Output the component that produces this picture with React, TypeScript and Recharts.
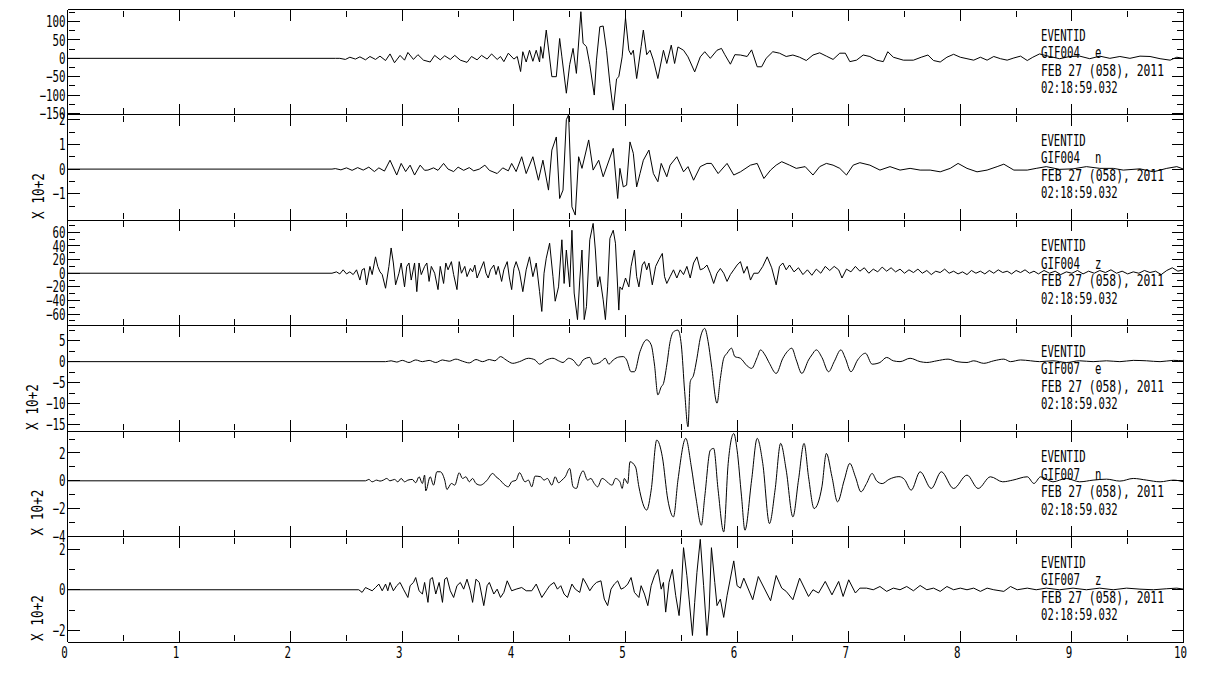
import React from 'react';
import { LineChart, Line, XAxis, YAxis } from 'recharts';

type Pt = [number, number];

// time axis (seconds)
const secondTicks = [0, 1, 2, 3, 4, 5, 6, 7, 8, 9, 10];
const halfSecondTicks = [0.5, 1.5, 2.5, 3.5, 4.5, 5.5, 6.5, 7.5, 8.5, 9.5];

// header text of every trace
const eventId = 'EVENTID';
const eventDate = 'FEB 27 (058), 2011';
const eventTime = '02:18:59.032';
const stations = ['GIF004', 'GIF004', 'GIF004', 'GIF007', 'GIF007', 'GIF007'];
const components = ['e', 'n', 'z', 'e', 'n', 'z'];
const scaleLabels = ['', 'X 10+2', '', 'X 10+2', 'X 10+2', 'X 10+2'];

// amplitude axes
const yDomains: [number, number][] = [[-153, 133], [-2.06, 2.21], [-76.6, 78], [-16.5, 8.6], [-4, 3.58], [-2.57, 2.62]];
const yMajorTicks = [
  [100, 50, 0, -50, -100, -150],
  [2, 1, 0, -1],
  [60, 40, 20, 0, -20, -40, -60],
  [5, 0, -5, -10, -15],
  [2, 0, -2, -4],
  [2, 0, -2],
];
const yMinorTicks = [
  [125, 75, 25, -25, -75, -125],
  [1.5, 0.5, -0.5, -1.5],
  [70, 50, 30, 10, -10, -30, -50, -70],
  [7.5, 2.5, -2.5, -7.5, -12.5],
  [3, 1, -1, -3],
  [1, -1],
];

// traces: [time s, amplitude]
const gif004e: Pt[] = [
  [0, 0], [2.40, 0], [2.44, 0], [2.49, -3], [2.53, 3], [2.58, -2], [2.62, 4], [2.67, -4], [2.71, 5], [2.76, -3],
  [2.80, 6], [2.85, -6], [2.89, 12], [2.93, -12], [2.98, 8], [3.02, -5], [3.05, 16], [3.10, -3], [3.14, 10], [3.19, -5],
  [3.25, -10], [3.29, 8], [3.34, -4], [3.38, 7], [3.43, -3], [3.47, 8], [3.52, -5], [3.58, -11], [3.62, 5], [3.67, -4],
  [3.71, 8], [3.76, -2], [3.80, 12], [3.85, -3], [3.88, 5], [3.91, -9], [3.95, 14], [4.00, -2], [4.03, 5],
  [4.06, -36], [4.08, 18], [4.11, -10], [4.14, 22], [4.17, -8], [4.20, 22], [4.23, -10], [4.24, 32], [4.26, 0], [4.29, 77],
  [4.34, -50], [4.38, -50], [4.41, 54], [4.43, 4], [4.47, -95], [4.50, -17], [4.53, 27], [4.56, -41], [4.60, 127], [4.62, 41],
  [4.65, 32], [4.68, -17], [4.72, -100], [4.74, -5], [4.77, 86], [4.80, 88], [4.83, 22], [4.86, -68], [4.89, -141], [4.92, -56],
  [4.94, -50], [4.97, 4], [5.00, 110], [5.03, 22], [5.05, 10], [5.07, 22], [5.10, -55], [5.14, 32], [5.16, 77], [5.19, 10],
  [5.22, 22], [5.25, -5], [5.29, -55], [5.34, 22], [5.37, -14], [5.41, 36], [5.44, -14], [5.47, 31], [5.52, 22], [5.56, 4],
  [5.62, -37], [5.67, 4], [5.71, 18], [5.76, 0], [5.82, 22], [5.86, 27], [5.89, 10], [5.94, -16], [5.98, 10], [6.03, 9],
  [6.09, 5], [6.13, 23], [6.18, -23], [6.22, -23], [6.26, 0], [6.32, 18], [6.38, 14], [6.44, 5], [6.50, 9], [6.56, 3],
  [6.62, -6], [6.68, 9], [6.74, 15], [6.80, 6], [6.86, -3], [6.92, 14], [6.97, 14], [7.01, -9], [7.07, -5], [7.13, 9],
  [7.19, 5], [7.25, -5], [7.31, -9], [7.35, 18], [7.40, 3], [7.49, -5], [7.58, -5], [7.65, 3], [7.71, 9], [7.76, -6],
  [7.82, -10], [7.88, 3], [7.94, 11], [8.00, 3], [8.06, -1], [8.12, -5], [8.18, 3], [8.24, -5], [8.30, 5], [8.36, -1],
  [8.42, -5], [8.48, 1], [8.54, 6], [8.60, -6], [8.65, 3], [8.71, 12], [8.80, 5], [8.89, -1], [8.98, 5], [9.07, 6],
  [9.16, -1], [9.25, 6], [9.34, 0], [9.43, 5], [9.52, 0], [9.61, 6], [9.70, 5], [9.79, -1], [9.88, -5], [9.94, 3], [10, 0],
];

const gif004n: Pt[] = [
  [0, 0], [2.37, 0], [2.40, 0.02], [2.45, -0.03], [2.50, 0.05], [2.55, -0.05], [2.60, 0.06], [2.65, -0.04], [2.70, 0.08], [2.75, -0.1],
  [2.79, 0.05], [2.84, -0.08], [2.89, 0.36], [2.95, -0.24], [2.99, 0.23], [3.03, -0.1], [3.07, 0.16], [3.11, -0.24], [3.16, 0.16], [3.20, -0.05],
  [3.23, -0.04], [3.28, 0.05], [3.32, -0.05], [3.37, 0.23], [3.41, 0.0], [3.46, -0.1], [3.50, 0.08], [3.55, -0.05], [3.60, 0.06], [3.64, -0.07],
  [3.69, 0.0], [3.74, 0.16], [3.78, -0.05], [3.85, -0.18], [3.90, 0.05], [3.95, -0.07], [3.98, 0.23], [4.02, -0.1], [4.07, 0.5], [4.11, -0.18],
  [4.17, 0.5], [4.22, -0.45], [4.26, 0.36], [4.31, -0.85], [4.34, 0.77], [4.38, 1.3], [4.41, -1.19], [4.44, -0.85], [4.47, 2.0], [4.49, 2.2],
  [4.52, -1.53], [4.55, -1.86], [4.58, 0.5], [4.61, 0.03], [4.67, 1.18], [4.71, -0.04], [4.76, 0.36], [4.80, -0.31], [4.89, 0.84], [4.93, -1.19],
  [4.95, 0.03], [4.98, -0.72], [5.01, -0.65], [5.04, 1.1], [5.07, 0.64], [5.10, -0.72], [5.13, -0.18], [5.16, 0.36], [5.21, 0.77], [5.25, -0.18],
  [5.29, -0.51], [5.32, 0.23], [5.37, -0.31], [5.40, 0.16], [5.46, 0.5], [5.52, -0.11], [5.56, 0.1], [5.61, -0.45], [5.67, 0.1], [5.73, 0.23],
  [5.77, 0.23], [5.83, -0.18], [5.91, 0.23], [5.97, -0.24], [6.03, -0.11], [6.12, 0.16], [6.18, 0.23], [6.24, -0.38], [6.30, -0.04], [6.35, 0.16],
  [6.40, 0.3], [6.47, 0.16], [6.53, 0.03], [6.61, 0.1], [6.68, -0.24], [6.74, 0.1], [6.80, 0.23], [6.86, 0.16], [6.92, 0.03], [6.98, -0.24],
  [7.04, 0.16], [7.10, 0.26], [7.19, 0.16], [7.28, -0.04], [7.37, 0.1], [7.46, -0.04], [7.55, 0.03], [7.64, -0.04], [7.73, -0.04], [7.82, -0.11],
  [7.91, 0.03], [7.98, 0.23], [8.06, 0.03], [8.15, -0.11], [8.24, -0.04], [8.33, 0.1], [8.39, 0.2], [8.48, -0.04], [8.60, -0.04], [8.68, 0.03],
  [8.77, 0.1], [8.89, -0.01], [9.01, 0.01], [9.13, 0.1], [9.25, 0.03], [9.37, 0.03], [9.46, -0.04], [9.61, 0.01], [9.73, -0.11], [9.85, 0.03],
  [9.94, 0.1], [10, 0],
];

const gif004z: Pt[] = [
  [0, 0], [2.37, 0], [2.41, 2], [2.44, -1], [2.47, 5], [2.50, -1], [2.53, 2], [2.56, -2], [2.59, 5], [2.62, -10],
  [2.64, 5], [2.66, 7], [2.68, -17], [2.71, 10], [2.73, -2], [2.76, 24], [2.78, 10], [2.80, 2], [2.82, -2], [2.85, -22],
  [2.88, 10], [2.90, 37], [2.92, 15], [2.94, -17], [2.97, 0], [2.99, 15], [3.02, -20], [3.04, 10], [3.06, 15], [3.08, -10],
  [3.11, 15], [3.13, -27], [3.15, 15], [3.17, -2], [3.20, 10], [3.22, 15], [3.24, -12], [3.26, 10], [3.29, 0], [3.32, -24],
  [3.34, 10], [3.37, -15], [3.39, 15], [3.41, 5], [3.44, 17], [3.46, -2], [3.49, -24], [3.51, 17], [3.53, 0], [3.56, 10],
  [3.58, -5], [3.61, 7], [3.63, 2], [3.65, 12], [3.67, -7], [3.70, 5], [3.73, 17], [3.75, 0], [3.77, -7], [3.79, 5],
  [3.82, 12], [3.84, -2], [3.86, 10], [3.89, -12], [3.91, 5], [3.94, 17], [3.96, -7], [3.98, -24], [4.00, 7], [4.02, 17],
  [4.05, 2], [4.08, -27], [4.11, 5], [4.14, 24], [4.17, -5], [4.20, 15], [4.23, -27], [4.25, -56], [4.27, 0], [4.29, 22],
  [4.32, 44], [4.35, -5], [4.37, -41], [4.40, -20], [4.43, 49], [4.45, -15], [4.47, 34], [4.50, -20], [4.52, 63], [4.54, -29],
  [4.57, -68], [4.59, -10], [4.61, 34], [4.63, -68], [4.65, -49], [4.68, 49], [4.71, 73], [4.73, 34], [4.75, -20], [4.77, -5],
  [4.80, -39], [4.82, -68], [4.84, -20], [4.86, 51], [4.89, 63], [4.91, 44], [4.94, -54], [4.95, -20], [4.97, -24], [5.00, -7],
  [5.03, -20], [5.05, 10], [5.08, 34], [5.10, -5], [5.12, -20], [5.15, 12], [5.17, 17], [5.19, 5], [5.21, 15], [5.24, -17],
  [5.27, 10], [5.30, 20], [5.33, 29], [5.35, -5], [5.37, -15], [5.40, -5], [5.43, 5], [5.46, -7], [5.49, 5], [5.52, -2],
  [5.55, 10], [5.58, -7], [5.61, 15], [5.64, 24], [5.67, 5], [5.70, 7], [5.73, 12], [5.76, 0], [5.79, -15], [5.82, 0],
  [5.85, 7], [5.88, 0], [5.91, -12], [5.94, -2], [5.97, 5], [6.00, 12], [6.03, 17], [6.06, 0], [6.09, 10], [6.12, -10],
  [6.15, 0], [6.19, 0], [6.23, 10], [6.27, 24], [6.31, 8], [6.35, -17], [6.38, 10], [6.41, 15], [6.44, 5], [6.47, 12],
  [6.51, 2], [6.55, 8], [6.59, -2], [6.63, 5], [6.67, -3], [6.71, 6], [6.75, 0], [6.79, 10], [6.83, 4], [6.87, 10],
  [6.91, 5], [6.94, -7], [6.98, 6], [7.02, 2], [7.06, 10], [7.10, 3], [7.14, 8], [7.18, 0], [7.22, 6], [7.26, 2],
  [7.30, 9], [7.34, 3], [7.38, 8], [7.42, 2], [7.46, 6], [7.50, 0], [7.54, 5], [7.58, 1], [7.62, 6], [7.66, 0],
  [7.70, 4], [7.74, -2], [7.78, 3], [7.82, 1], [7.86, 6], [7.90, 0], [7.94, 3], [7.98, -1], [8.02, 2], [8.06, -2],
  [8.10, 4], [8.14, 0], [8.18, 3], [8.22, -1], [8.26, 4], [8.30, 0], [8.34, 5], [8.38, 1], [8.42, 3], [8.46, -1],
  [8.50, 4], [8.54, 1], [8.58, 5], [8.62, 0], [8.66, 3], [8.70, -1], [8.75, 4], [8.80, 0], [8.85, 3], [8.90, -2],
  [8.95, 2], [9.00, 0], [9.05, 4], [9.10, -1], [9.15, 3], [9.20, 0], [9.25, 4], [9.30, 1], [9.35, 5], [9.40, 0],
  [9.45, 3], [9.50, -1], [9.55, 2], [9.60, 0], [9.65, 4], [9.70, 1], [9.75, 3], [9.80, -2], [9.85, 4], [9.90, 8],
  [9.95, 3], [10, 5],
];

const gif007e: Pt[] = [
  [0, 0], [2.85, 0], [2.90, 0.2], [2.95, -0.1], [3.00, 0.3], [3.06, -0.2], [3.12, 0.4], [3.18, 0], [3.24, 0.3], [3.30, -0.2],
  [3.36, 0.4], [3.42, 0.1], [3.48, 0.6], [3.54, 0.1], [3.60, -0.3], [3.66, 0.5], [3.72, 0], [3.78, 0.5], [3.83, 0.2], [3.88, 1.2],
  [3.93, 0.4], [3.99, -0.4], [4.05, 0], [4.13, 0.8], [4.19, 0.4], [4.23, -0.6], [4.29, 0.4], [4.35, 0.8], [4.40, 0.2], [4.44, -0.2],
  [4.49, 0.8], [4.53, 0.4], [4.58, -1.0], [4.62, 0.4], [4.68, 1.0], [4.71, -0.6], [4.77, -0.2], [4.82, 0.8], [4.85, -0.6], [4.89, 0.4],
  [4.94, 1.1], [4.98, 1.2], [5.01, 0.4], [5.05, -2.4], [5.08, -2.4], [5.13, 2.4], [5.19, 5.2], [5.23, 4.0], [5.26, -0.8], [5.29, -7.9],
  [5.32, -6.0], [5.34, -5.2], [5.37, -0.8], [5.40, 4.8], [5.43, 7.1], [5.47, 7.5], [5.50, 4.0], [5.53, -7.1], [5.56, -15.5], [5.58, -4.8],
  [5.61, -3.2], [5.64, 0.8], [5.67, 5.6], [5.71, 7.9], [5.74, 4.8], [5.77, -0.8], [5.82, -9.9], [5.85, -4.0], [5.88, 0.8], [5.91, 2.0],
  [5.95, 3.2], [5.98, 1.2], [6.03, 0.8], [6.09, -1.0], [6.13, -1.6], [6.18, 1.0], [6.21, 2.8], [6.25, 1.6], [6.29, -0.4], [6.35, -2.8],
  [6.41, 0.8], [6.45, 2.4], [6.49, 3.2], [6.53, 0.4], [6.58, -2.8], [6.64, 0.4], [6.67, 1.6], [6.71, 2.8], [6.76, 1.0], [6.82, -2.4],
  [6.87, 0], [6.93, 2.8], [6.97, 0.8], [7.02, -2.4], [7.08, 0.4], [7.15, 2.0], [7.21, -0.6], [7.28, -0.2], [7.34, 1.0], [7.40, 0.2],
  [7.46, 0], [7.55, 0.8], [7.64, 0], [7.70, -0.2], [7.79, 0.2], [7.89, 0.6], [7.97, 0], [8.06, -0.2], [8.12, 0.2], [8.21, -0.4],
  [8.30, 0.2], [8.39, 0.6], [8.45, 0], [8.54, 0.4], [8.63, 0.2], [8.71, 0], [8.83, 0.2], [8.95, -0.2], [9.07, 0.2], [9.19, 0],
  [9.31, 0.2], [9.43, 0], [9.55, 0.3], [9.67, 0.2], [9.79, 0], [9.91, 0.3], [10, 0.2],
];

const gif007n: Pt[] = [
  [0, 0], [2.67, 0], [2.70, 0.1], [2.73, -0.07], [2.77, 0.05], [2.80, -0.02], [2.83, 0.05], [2.86, 0.17], [2.89, 0], [2.93, 0.1],
  [2.96, -0.07], [2.99, 0.17], [3.02, -0.07], [3.05, 0.05], [3.09, 0.1], [3.12, -0.14], [3.15, 0.29], [3.18, -0.19], [3.20, 0.41], [3.21, -0.72],
  [3.25, 0.29], [3.28, -0.31], [3.31, 0.65], [3.34, 0.65], [3.38, 0.05], [3.40, -0.62], [3.44, -0.19], [3.47, -0.31], [3.51, 0.58], [3.54, 0.17],
  [3.57, 0.29], [3.60, -0.07], [3.63, 0.17], [3.66, -0.19], [3.70, -0.31], [3.73, -0.19], [3.76, 0.05], [3.81, 0.53], [3.84, 0.29], [3.87, 0.1],
  [3.92, -0.31], [3.95, -0.43], [3.98, -0.07], [4.02, 0.05], [4.05, 0.58], [4.10, -0.07], [4.13, 0.05], [4.16, -0.43], [4.19, 0.34], [4.24, 0.29],
  [4.27, 0.05], [4.30, 0.17], [4.34, -0.31], [4.37, 0.29], [4.40, -0.14], [4.43, 0.05], [4.46, 0.29], [4.50, 0.89], [4.53, -0.43], [4.56, -0.55],
  [4.59, 0.29], [4.62, 0.72], [4.66, 0.05], [4.69, 0.17], [4.72, -0.19], [4.75, -0.43], [4.79, 0.17], [4.82, 0.05], [4.85, -0.19], [4.88, -0.31],
  [4.91, 0.17], [4.95, -0.07], [4.97, -0.55], [4.99, 0.17], [5.02, -0.19], [5.04, 1.37], [5.09, 1.0], [5.12, -0.43], [5.19, -2.1], [5.23, -0.67],
  [5.28, 2.93], [5.33, 1.73], [5.38, -1.39], [5.43, -2.59], [5.47, 0.05], [5.54, 3.05], [5.59, 1.0], [5.63, -1.15], [5.68, -3.19], [5.71, -1.15],
  [5.76, 2.2], [5.79, 2.33], [5.83, -0.67], [5.88, -3.67], [5.92, 1.25], [5.97, 3.4], [6.00, 2.2], [6.04, -1.15], [6.07, -3.55], [6.13, 0.05],
  [6.18, 3.05], [6.23, 1.25], [6.29, -3.07], [6.34, -0.67], [6.39, 2.69], [6.44, 0.77], [6.50, -2.59], [6.55, 0.05], [6.60, 2.69], [6.64, 0.29],
  [6.69, -1.99], [6.76, -0.43], [6.80, 1.97], [6.85, 0.29], [6.90, -1.51], [6.96, 0.05], [7.01, 1.25], [7.06, 0.29], [7.11, -0.79], [7.16, -0.19],
  [7.21, 0.53], [7.25, 0.0], [7.30, -0.2], [7.36, 0.1], [7.45, 0.3], [7.50, 0.1], [7.56, -0.67], [7.64, 0.65], [7.74, -0.55], [7.83, 0.65],
  [7.94, -0.55], [8.06, 0.41], [8.16, -0.55], [8.27, 0.29], [8.38, -0.07], [8.47, 0.05], [8.60, 0.29], [8.66, -0.19], [8.72, 0.29], [8.83, -0.07],
  [8.95, 0.17], [9.07, -0.07], [9.19, 0.05], [9.31, 0.12], [9.43, -0.02], [9.55, 0.17], [9.67, 0.05], [9.79, -0.07], [9.91, 0.05], [10, -0.07],
];

const gif007z: Pt[] = [
  [0, 0], [2.61, 0], [2.64, -0.13], [2.67, 0.11], [2.70, 0.03], [2.73, -0.05], [2.76, 0.11], [2.79, 0.28], [2.82, -0.05], [2.85, 0.28],
  [2.87, -0.05], [2.89, 0.36], [2.92, -0.05], [2.95, 0.2], [2.98, 0.36], [3.01, 0.03], [3.05, -0.38], [3.07, 0.2], [3.10, 0.36], [3.12, 0.6],
  [3.15, -0.05], [3.18, -0.21], [3.20, 0.36], [3.23, -0.62], [3.25, 0.52], [3.27, 0.6], [3.30, -0.21], [3.33, 0.36], [3.36, -0.62], [3.38, 0.52],
  [3.40, 0.6], [3.43, -0.05], [3.46, -0.38], [3.49, 0.2], [3.52, 0.36], [3.55, 0.03], [3.58, 0.52], [3.61, -0.05], [3.63, -0.62], [3.66, 0.52],
  [3.69, 0.36], [3.73, -0.78], [3.76, 0.2], [3.78, 0.36], [3.82, -0.21], [3.85, 0.03], [3.88, -0.38], [3.91, -0.13], [3.94, 0.44], [3.98, -0.05],
  [4.02, 0.03], [4.07, 0.11], [4.11, -0.05], [4.16, -0.05], [4.20, 0.28], [4.25, -0.38], [4.29, -0.05], [4.32, 0.2], [4.36, 0.36], [4.39, 0.03],
  [4.42, 0.2], [4.45, -0.21], [4.48, -0.38], [4.52, 0.28], [4.55, 0.03], [4.59, -0.13], [4.62, 0.56], [4.65, 0.28], [4.68, -0.05], [4.71, 0.2],
  [4.74, 0.36], [4.78, 0.44], [4.81, -0.46], [4.84, -0.78], [4.87, 0.03], [4.90, 0.28], [4.93, 0.44], [4.96, 0.03], [4.99, 0.11], [5.02, 0.28],
  [5.05, 0.6], [5.08, -0.13], [5.12, -0.38], [5.14, 0.2], [5.17, -0.21], [5.20, -0.78], [5.23, 0.2], [5.26, 0.69], [5.29, 1.0], [5.32, 0.03],
  [5.34, 0.36], [5.36, -1.1], [5.39, 0.36], [5.42, 1.0], [5.45, -0.29], [5.48, -1.27], [5.50, 0.03], [5.52, 2.07], [5.55, 0.69], [5.57, -0.46],
  [5.60, -2.25], [5.62, -0.62], [5.64, 0.85], [5.67, 2.48], [5.70, 0.2], [5.73, -2.25], [5.75, -0.95], [5.77, 2.07], [5.80, 0.36], [5.82, -0.78],
  [5.85, -0.46], [5.88, -1.36], [5.91, -0.29], [5.97, 1.42], [6.00, 0.2], [6.03, 0.08], [6.06, 0.57], [6.14, -0.49], [6.19, 0.65], [6.30, -0.54],
  [6.35, 0.7], [6.40, 0.08], [6.44, -0.08], [6.50, -0.49], [6.56, 0.57], [6.64, -0.33], [6.68, 0], [6.73, -0.16], [6.79, 0.41], [6.85, -0.25],
  [6.91, 0.41], [6.95, -0.33], [7.00, 0.49], [7.06, -0.16], [7.10, 0.08], [7.16, 0.08], [7.22, 0], [7.28, 0.16], [7.34, -0.08], [7.40, 0.08],
  [7.46, 0], [7.52, 0.16], [7.58, -0.05], [7.64, 0.21], [7.70, 0], [7.76, 0.08], [7.82, -0.08], [7.88, 0.16], [7.94, 0], [8.00, 0.08],
  [8.06, 0], [8.12, 0.08], [8.18, -0.08], [8.24, 0.08], [8.30, 0], [8.39, -0.08], [8.45, 0.16], [8.51, 0], [8.60, 0.08], [8.68, 0],
  [8.77, 0.08], [8.89, 0], [9.01, 0.08], [9.13, 0], [9.25, 0.08], [9.37, 0], [9.49, 0.08], [9.61, 0.03], [9.73, 0], [9.85, 0.05],
  [9.94, 0.08], [10, 0.03],
];

const traces = [gif004e, gif004n, gif004z, gif007e, gif007n, gif007z];

// layout
const W = 1216;
const H = 674;
const plotLeft = 67.5;
const plotRight = 1183.5;
const panelEdges = [9.5, 114.5, 220, 325.5, 431, 536.5, 642];
const scaleLabelX = [0, 44, 0, 37.5, 43, 43];
// the long-period GIF007 horizontals are drawn as smooth curves
const curveTypes = ['linear', 'linear', 'linear', 'monotone', 'monotone', 'linear'] as const;
const MONO = "'DejaVu Sans Mono', 'Liberation Mono', monospace";
const FS = 15.5;
const SX = 0.7; // narrow plotting font
const labelWidth = 60;
const labelHeight = 25;

const fmt = (v: number) => String(v).replace('-', '\u2212');

const NoLabel = () => <g />;

const YLabel = (props: any) => {
  const { x, y, payload } = props;
  return (
    <text transform={`translate(${x},${y}) scale(${SX},1)`} textAnchor="end" dy="0.36em"
      fontFamily={MONO} fontSize={FS} fill="#000">
      {fmt(payload.value)}
    </text>
  );
};

const XLabel = (props: any) => {
  const { x, y, payload } = props;
  return (
    <text transform={`translate(${x - 3},${y}) scale(${SX},1)`} textAnchor="middle" dy="0.72em"
      fontFamily={MONO} fontSize={FS} fill="#000">
      {fmt(payload.value)}
    </text>
  );
};

function Panel({ index }: { index: number }) {
  const top = panelEdges[index];
  const bottom = panelEdges[index + 1];
  const isLast = index === traces.length - 1;
  const data = traces[index].map(([t, v]) => ({ t, v }));
  const dom = yDomains[index];

  return (
    <div style={{ position: 'absolute', left: 0, top: 0 }}>
      <LineChart
        width={W}
        height={H}
        data={data}
        margin={{
          top,
          right: W - plotRight,
          bottom: H - bottom - (isLast ? labelHeight : 0),
          left: plotLeft - labelWidth,
        }}
      >
        {/* tick marks point inwards on all four sides */}
        <XAxis xAxisId="t" type="number" dataKey="t" domain={[0, 10]} allowDataOverflow ticks={secondTicks} interval={0}
          orientation="bottom" mirror height={1} tickSize={11} tick={NoLabel} stroke="#000" />
        <XAxis xAxisId="tb" type="number" dataKey="t" domain={[0, 10]} allowDataOverflow ticks={halfSecondTicks} interval={0}
          orientation="bottom" mirror height={1} tickSize={6} tick={NoLabel} axisLine={false} stroke="#000" />
        <XAxis xAxisId="tt" type="number" dataKey="t" domain={[0, 10]} allowDataOverflow ticks={secondTicks} interval={0}
          orientation="top" mirror height={1} tickSize={11} tick={NoLabel} stroke="#000" />
        <XAxis xAxisId="ttm" type="number" dataKey="t" domain={[0, 10]} allowDataOverflow ticks={halfSecondTicks} interval={0}
          orientation="top" mirror height={1} tickSize={6} tick={NoLabel} axisLine={false} stroke="#000" />

        <YAxis yAxisId="v" type="number" dataKey="v" domain={dom} allowDataOverflow ticks={yMajorTicks[index]} interval={0}
          orientation="left" mirror width={1} tickSize={12} tick={NoLabel} stroke="#000" />
        <YAxis yAxisId="vm" type="number" dataKey="v" domain={dom} allowDataOverflow ticks={yMinorTicks[index]} interval={0}
          orientation="left" mirror width={1} tickSize={6} tick={NoLabel} axisLine={false} stroke="#000" />
        <YAxis yAxisId="vr" type="number" dataKey="v" domain={dom} allowDataOverflow ticks={yMajorTicks[index]} interval={0}
          orientation="right" mirror width={1} tickSize={12} tick={NoLabel} stroke="#000" />
        <YAxis yAxisId="vrm" type="number" dataKey="v" domain={dom} allowDataOverflow ticks={yMinorTicks[index]} interval={0}
          orientation="right" mirror width={1} tickSize={6} tick={NoLabel} axisLine={false} stroke="#000" />

        {/* amplitude labels */}
        <YAxis yAxisId="vl" type="number" dataKey="v" domain={dom} allowDataOverflow ticks={yMajorTicks[index]} interval={0}
          orientation="left" width={labelWidth} tickLine={false} axisLine={false} tickSize={0} tickMargin={2} tick={YLabel} />

        {isLast && (
          <XAxis xAxisId="tl" type="number" dataKey="t" domain={[0, 10]} allowDataOverflow ticks={secondTicks} interval={0}
            orientation="bottom" height={labelHeight} tickLine={false} axisLine={false} tickSize={0} tickMargin={5}
            tick={XLabel} />
        )}

        <Line xAxisId="t" yAxisId="v" type={curveTypes[index]} dataKey="v" stroke="#000" strokeWidth={1}
          dot={false} activeDot={false} isAnimationActive={false} />
      </LineChart>
    </div>
  );
}

export default function App() {
  return (
    <div style={{ position: 'absolute', left: 0, top: 0, width: W, height: H, background: '#fff', overflow: 'hidden' }}>
      <style>{'.recharts-cartesian-axis-line, .recharts-cartesian-axis-tick-line { shape-rendering: crispEdges; }'}</style>
      {traces.map((_, i) => (
        <Panel key={i} index={i} />
      ))}
      <svg width={W} height={H} style={{ position: 'absolute', left: 0, top: 0, pointerEvents: 'none' }}>
        {traces.map((_, i) => {
          const top = panelEdges[i];
          const bottom = panelEdges[i + 1];
          return (
            <g key={i} fontFamily={MONO} fontSize={FS} fill="#000">
              <text x={1041} y={top + 31} textLength={44.7} lengthAdjust="spacingAndGlyphs">{eventId}</text>
              <text x={1041} y={top + 48.6} textLength={39} lengthAdjust="spacingAndGlyphs">{stations[i]}</text>
              <text x={1095} y={top + 48.6} textLength={6.4} lengthAdjust="spacingAndGlyphs">{components[i]}</text>
              <text x={1041} y={top + 66.2} textLength={123} lengthAdjust="spacingAndGlyphs">{eventDate}</text>
              <text x={1041} y={top + 83.8} textLength={76.7} lengthAdjust="spacingAndGlyphs">{eventTime}</text>
              {scaleLabels[i] && (
                <text transform={`translate(${scaleLabelX[i]},${bottom - 1}) rotate(-90)`} textAnchor="start"
                  textLength={46} lengthAdjust="spacingAndGlyphs">
                  {scaleLabels[i]}
                </text>
              )}
            </g>
          );
        })}
      </svg>
    </div>
  );
}
